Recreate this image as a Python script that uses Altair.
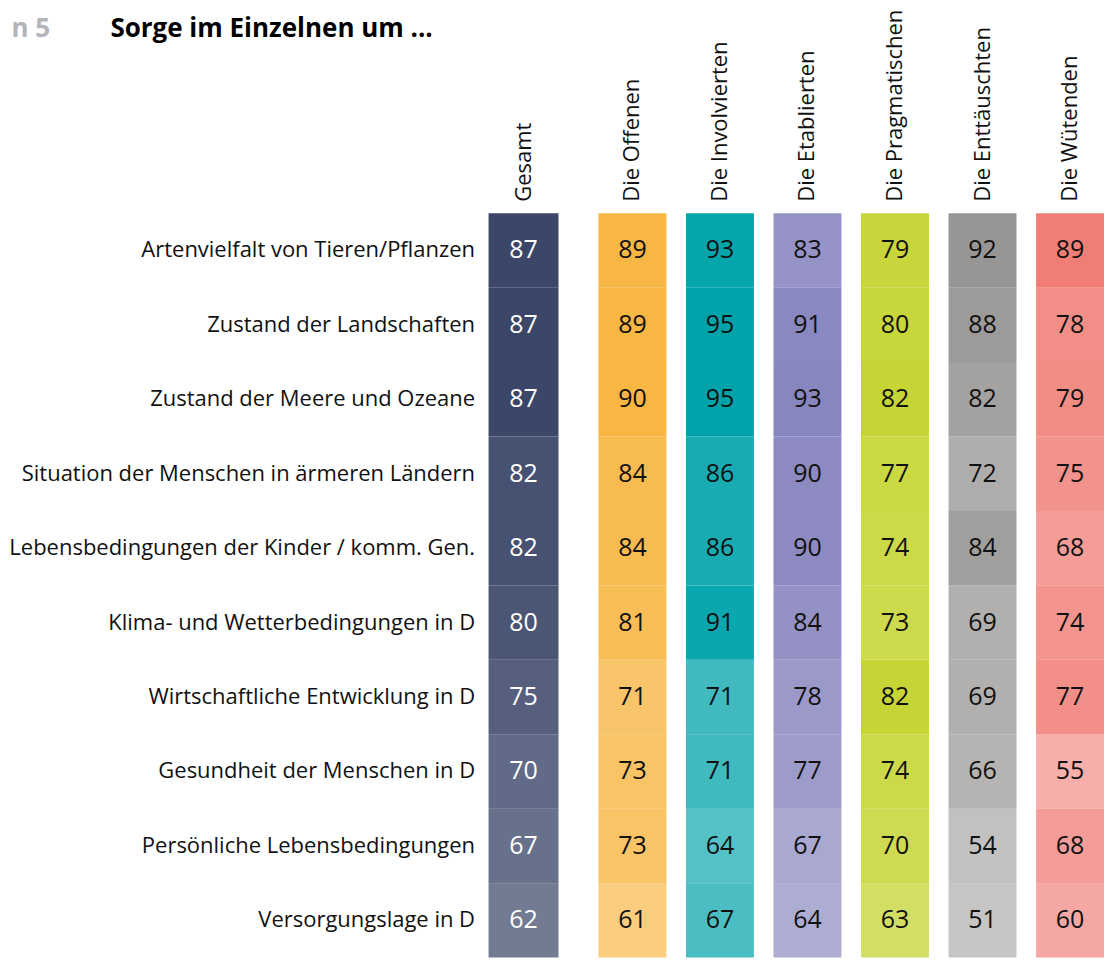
import altair as alt
import pandas as pd

rows = [
    "Artenvielfalt von Tieren/Pflanzen",
    "Zustand der Landschaften",
    "Zustand der Meere und Ozeane",
    "Situation der Menschen in ärmeren Ländern",
    "Lebensbedingungen der Kinder / komm. Gen.",
    "Klima- und Wetterbedingungen in D",
    "Wirtschaftliche Entwicklung in D",
    "Gesundheit der Menschen in D",
    "Persönliche Lebensbedingungen",
    "Versorgungslage in D",
]

groups = ["Gesamt", "Die Offenen", "Die Involvierten", "Die Etablierten",
          "Die Pragmatischen", "Die Enttäuschten", "Die Wütenden"]

gesamt = [87, 87, 87, 82, 82, 80, 75, 70, 67, 62]
offenen = [89, 89, 90, 84, 84, 81, 71, 73, 73, 61]
involvierten = [93, 95, 95, 86, 86, 91, 71, 71, 64, 67]
etablierten = [83, 91, 93, 90, 90, 84, 78, 77, 67, 64]
pragmatischen = [79, 80, 82, 77, 74, 73, 82, 74, 70, 63]
enttaeuschten = [92, 88, 82, 72, 84, 69, 69, 66, 54, 51]
wuetenden = [89, 78, 79, 75, 68, 74, 77, 55, 68, 60]

colors = ["#3b4668", "#f8b643", "#00a3aa", "#8886bf",
          "#c6d535", "#989694", "#f07e77"]

series = [gesamt, offenen, involvierten, etablierten,
          pragmatischen, enttaeuschten, wuetenden]

records = []
for g, vals in zip(groups, series):
    for r, v in zip(rows, vals):
        records.append({"group": g, "item": r, "value": v})
df = pd.DataFrame(records)

FONT = "Open Sans"
color_scale = alt.Scale(domain=groups, range=colors)

PLOT_H = 745
y_scale = alt.Scale(type="band", paddingInner=0, paddingOuter=0)
xg_scale = alt.Scale(type="band", paddingInner=0, paddingOuter=0)
xo_scale = alt.Scale(type="band", paddingInner=0.2237, paddingOuter=0)


def base_chart(data):
    return alt.Chart(data).transform_joinaggregate(
        colmax="max(value)", groupby=["group"]
    ).transform_calculate(op="datum.value / datum.colmax")


y_enc_left = alt.Y(
    "item:N", sort=rows, scale=y_scale,
    axis=alt.Axis(
        title="n 5", titleAngle=0, titleAlign="left", titleBaseline="alphabetic",
        titleX=-478, titleY=-177, titleFontSize=26, titleFontWeight="bold",
        titleColor="#b3b5b9", titleFont=FONT,
        labelFontSize=22, labelFont=FONT, labelColor="#111111",
        labelPadding=14, labelLimit=0, domain=False, ticks=False,
    ),
)

x_axis_common = dict(
    orient="top", labelAngle=-90, labelAlign="left", labelBaseline="middle",
    labelFontSize=22, labelFont=FONT, labelColor="#111111", labelPadding=12,
    domain=False, ticks=False, labelLimit=0,
)

# Gesamt panel
gdf = df[df["group"] == "Gesamt"]
g_base = base_chart(gdf)
g_rect = g_base.mark_rect().encode(
    x=alt.X("group:N", sort=groups[:1], scale=xg_scale,
            axis=alt.Axis(
                title="Sorge im Einzelnen um ...", titleAngle=0, titleAlign="left",
                titleBaseline="alphabetic", titleX=-379, titleY=-177,
                titleFontSize=26, titleFontWeight="bold", titleColor="#000000",
                titleFont=FONT, **x_axis_common)),
    y=y_enc_left,
    color=alt.Color("group:N", scale=color_scale, legend=None),
    opacity=alt.Opacity("op:Q", scale=None, legend=None),
)
g_text = alt.Chart(gdf).mark_text(fontSize=25, font=FONT, color="white").encode(
    x=alt.X("group:N", sort=groups[:1], scale=xg_scale),
    y=alt.Y("item:N", sort=rows, scale=y_scale),
    text="value:Q",
)
gesamt_chart = alt.layer(g_rect, g_text).properties(width=70, height=PLOT_H)

# Groups panel
odf = df[df["group"] != "Gesamt"]
o_base = base_chart(odf)
o_rect = o_base.mark_rect().encode(
    x=alt.X("group:N", sort=groups[1:], scale=xo_scale,
            axis=alt.Axis(title=None, **x_axis_common)),
    y=alt.Y("item:N", sort=rows, scale=y_scale, axis=None),
    color=alt.Color("group:N", scale=color_scale, legend=None),
    opacity=alt.Opacity("op:Q", scale=None, legend=None),
)
o_text = alt.Chart(odf).mark_text(fontSize=25, font=FONT, color="#111111").encode(
    x=alt.X("group:N", sort=groups[1:], scale=xo_scale),
    y=alt.Y("item:N", sort=rows, scale=y_scale),
    text="value:Q",
)
groups_chart = alt.layer(o_rect, o_text).properties(width=506, height=PLOT_H)

chart = alt.hconcat(gesamt_chart, groups_chart, spacing=40).properties(
    padding={"left": 0, "top": 0, "right": 0, "bottom": 0}
).configure_view(stroke=None)

chart.save("out.html", embed_options={"renderer": "svg", "actions": False})
